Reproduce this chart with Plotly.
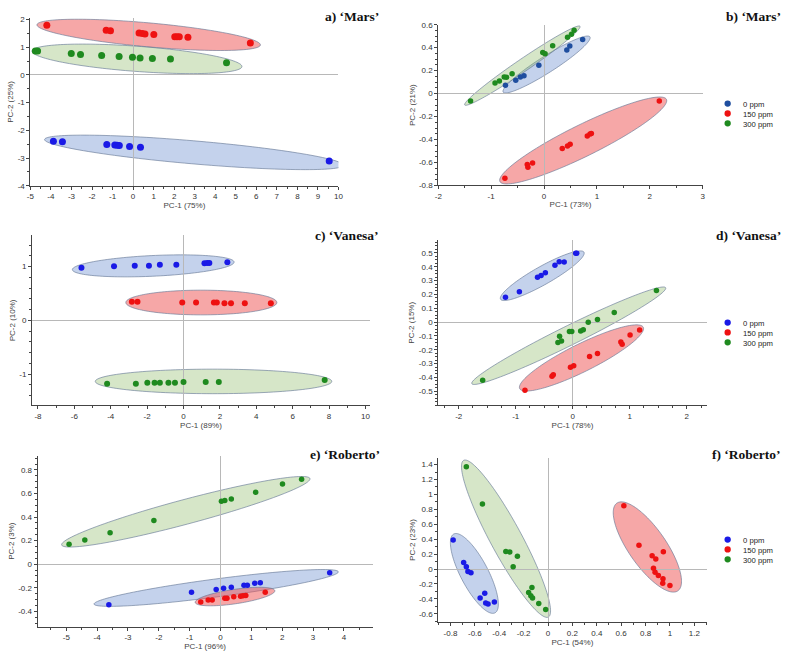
import numpy as np
import plotly.graph_objects as go

# ---------------- data ----------------
groups = ["0 ppm", "150 ppm", "300 ppm"]
titles = ["a) \u2018Mars\u2019", "b) \u2018Mars\u2019", "c) \u2018Vanesa\u2019",
          "d) \u2018Vanesa\u2019", "e) \u2018Roberto\u2019", "f) \u2018Roberto\u2019"]
x_titles = ["PC-1 (75%)", "PC-1 (73%)", "PC-1 (89%)", "PC-1 (78%)", "PC-1 (96%)", "PC-1 (54%)"]
y_titles = ["PC-2 (25%)", "PC-2 (21%)", "PC-2 (10%)", "PC-2 (15%)", "PC-2 (3%)", "PC-2 (23%)"]

# panel a
a_0_x = [-3.88, -3.44, -1.28, -0.89, -0.78, -0.67, -0.17, 0.36, 9.55]
a_0_y = [-2.39, -2.41, -2.51, -2.53, -2.54, -2.55, -2.58, -2.61, -3.11]
a_150_x = [-4.20, -1.31, -1.10, 0.29, 0.45, 0.58, 1.01, 2.03, 2.14, 2.25, 2.67, 5.71]
a_150_y = [1.79, 1.61, 1.59, 1.51, 1.49, 1.48, 1.46, 1.38, 1.38, 1.38, 1.36, 1.15]
a_300_x = [-4.76, -4.65, -3.01, -2.56, -1.53, -0.68, -0.03, 0.34, 0.94, 1.82, 4.55]
a_300_y = [0.86, 0.86, 0.77, 0.74, 0.70, 0.66, 0.64, 0.61, 0.59, 0.57, 0.44]

# panel b
b_0_x = [-0.73, -0.535, -0.448, -0.379, -0.098, 0.431, 0.487, 0.73]
b_0_y = [0.073, 0.116, 0.145, 0.156, 0.248, 0.38, 0.414, 0.471]
b_150_x = [-0.74, -0.317, -0.305, -0.217, 0.345, 0.444, 0.494, 0.818, 0.87, 0.895, 2.18]
b_150_y = [-0.737, -0.617, -0.642, -0.605, -0.477, -0.457, -0.442, -0.37, -0.352, -0.348, -0.064]
b_300_x = [-1.39, -0.927, -0.845, -0.753, -0.71, -0.604, -0.024, 0.02, 0.163, 0.444, 0.519, 0.569]
b_300_y = [-0.064, 0.093, 0.11, 0.145, 0.142, 0.173, 0.357, 0.348, 0.417, 0.491, 0.517, 0.551]

# panel c
c_0_x = [-5.61, -3.82, -2.68, -1.90, -1.30, -0.395, 1.15, 1.30, 1.42, 2.41]
c_0_y = [0.98, 1.006, 1.018, 1.018, 1.037, 1.037, 1.062, 1.067, 1.067, 1.08]
c_150_x = [-2.84, -2.53, -0.07, 0.69, 1.67, 1.83, 2.25, 2.61, 3.37, 4.80]
c_150_y = [0.346, 0.346, 0.333, 0.333, 0.333, 0.333, 0.321, 0.321, 0.321, 0.321]
c_300_x = [-4.20, -2.62, -1.99, -1.59, -1.30, -0.83, -0.47, 0.0, 1.22, 1.94, 7.76]
c_300_y = [-1.177, -1.177, -1.159, -1.159, -1.159, -1.159, -1.159, -1.147, -1.147, -1.147, -1.11]

# panel d
d_0_x = [-1.18, -0.936, -0.618, -0.555, -0.48, -0.312, -0.237, -0.15, 0.052, 0.07]
d_0_y = [0.179, 0.22, 0.324, 0.336, 0.357, 0.41, 0.436, 0.434, 0.498, 0.497]
d_150_x = [-0.838, -0.364, -0.341, -0.04, 0.017, 0.295, 0.434, 0.844, 0.867, 1.006, 1.173]
d_150_y = [-0.493, -0.391, -0.381, -0.327, -0.315, -0.248, -0.227, -0.144, -0.16, -0.094, -0.058]
d_300_x = [-1.58, -0.26, -0.231, -0.197, -0.058, -0.017, 0.139, 0.185, 0.272, 0.434, 0.728, 1.468]
d_300_y = [-0.42, -0.148, -0.103, -0.137, -0.068, -0.068, -0.065, -0.056, -0.001, 0.018, 0.07, 0.229]

# panel e
e_0_x = [-3.62, -0.94, -0.14, 0.10, 0.35, 0.76, 0.87, 1.11, 1.29, 3.54]
e_0_y = [-0.345, -0.238, -0.216, -0.205, -0.196, -0.18, -0.18, -0.163, -0.157, -0.073]
e_150_x = [-0.64, -0.40, -0.27, 0.14, 0.21, 0.43, 0.65, 0.73, 0.82, 1.45]
e_150_y = [-0.322, -0.305, -0.305, -0.289, -0.289, -0.277, -0.272, -0.269, -0.266, -0.238]
e_300_x = [-4.91, -4.40, -3.58, -2.16, 0.03, 0.14, 0.35, 1.14, 2.01, 2.63]
e_300_y = [0.169, 0.205, 0.267, 0.37, 0.535, 0.54, 0.554, 0.61, 0.68, 0.722]

# panel f
f_0_x = [-0.778, -0.692, -0.670, -0.657, -0.632, -0.557, -0.519, -0.511, -0.492, -0.44]
f_0_y = [0.391, 0.087, 0.030, -0.032, -0.049, -0.389, -0.323, -0.455, -0.468, -0.441]
f_150_x = [0.622, 0.746, 0.854, 0.884, 0.946, 0.865, 0.878, 0.905, 0.943, 0.941, 1.0]
f_150_y = [0.849, 0.320, 0.179, 0.136, 0.233, 0.012, -0.041, -0.085, -0.129, -0.190, -0.221]
f_300_x = [-0.670, -0.538, -0.346, -0.314, -0.251, -0.286, -0.132, -0.159, -0.141, -0.127, -0.076, -0.019]
f_300_y = [1.373, 0.871, 0.237, 0.228, 0.171, 0.030, -0.248, -0.314, -0.358, -0.389, -0.463, -0.542]

# confidence ellipses: major-axis tips (data units) and minor/major ratio
ell_a = {"0": [(-4.31, -2.33), (10.24, -3.26), 0.077], "150": [(-4.68, 1.81), (6.2, 1.08), 0.107], "300": [(-4.92, 0.86), (5.30, 0.30), 0.12]}
ell_b = {"0": [(-0.772, 0.013), (0.868, 0.494), 0.16], "150": [(-0.834, -0.766), (2.315, -0.05), 0.17], "300": [(-1.50, -0.099), (0.68, 0.586), 0.09]}
ell_c = {"0": [(-6.11, 0.944), (2.78, 1.086), 0.128], "150": [(-3.17, 0.333), (5.13, 0.333), 0.164], "300": [(-4.85, -1.135), (8.15, -1.135), 0.104]}
ell_d = {"0": [(-1.266, 0.165), (0.197, 0.505), 0.19], "150": [(-0.93, -0.481), (1.237, -0.037), 0.2], "300": [(-1.77, -0.445), (1.63, 0.248), 0.09]}
ell_e = {"0": [(-4.10, -0.339), (3.82, -0.065), 0.073], "150": [(-0.82, -0.325), (1.76, -0.225), 0.18], "300": [(-5.15, 0.163), (2.90, 0.727), 0.096]}
ell_f = {"0": [(-0.773, 0.470), (-0.435, -0.587), 0.31], "150": [(0.565, 0.884), (1.065, -0.292), 0.35], "300": [(-0.692, 1.457), (0.003, -0.643), 0.175]}

# tick values
a_xt = [-5, -4, -3, -2, -1, 0, 1, 2, 3, 4, 5, 6, 7, 8, 9, 10]
a_yt = [-4, -3, -2, -1, 0, 1, 2]
b_xt = [-2, -1, 0, 1, 2, 3]
b_yt = [-0.8, -0.6, -0.4, -0.2, 0, 0.2, 0.4, 0.6]
c_xt = [-8, -6, -4, -2, 0, 2, 4, 6, 8, 10]
c_yt = [-1, 0, 1]
d_xt = [-2, -1, 0, 1, 2]
d_yt = [-0.5, -0.4, -0.3, -0.2, -0.1, 0, 0.1, 0.2, 0.3, 0.4, 0.5]
e_xt = [-5, -4, -3, -2, -1, 0, 1, 2, 3, 4]
e_yt = [-0.4, -0.2, 0, 0.2, 0.4, 0.6, 0.8]
f_xt = [-0.8, -0.6, -0.4, -0.2, 0, 0.2, 0.4, 0.6, 0.8, 1, 1.2]
f_yt = [-0.6, -0.4, -0.2, 0, 0.2, 0.4, 0.6, 0.8, 1, 1.2, 1.4]

# ---------------- layout geometry ----------------
W, H = 790, 658
BLUE, NAVY, RED, GREEN = "#1a1ae6", "#1f4e9f", "#ee1111", "#1f8a1f"
FILL = {"0": "rgba(86,126,201,0.35)", "150": "rgba(238,80,80,0.5)", "300": "rgba(138,184,98,0.35)"}

panels = [
    dict(data=[(a_0_x, a_0_y), (a_150_x, a_150_y), (a_300_x, a_300_y)], ell=ell_a,
         xpx=(26.7, 338.3), ypx=(184.3, 14.3), xr=(-5, 10), yr=(-4, 2.05), xt=a_xt, yt=a_yt,
         xminor=0.5, yminor=0.5, msize=7, blue=BLUE, title_xy=(381, 13), legend=None),
    dict(data=[(b_0_x, b_0_y), (b_150_x, b_150_y), (b_300_x, b_300_y)], ell=ell_b,
         xpx=(439.3, 706.7), ypx=(184.0, 21.0), xr=(-2, 3), yr=(-0.8, 0.6), xt=b_xt, yt=b_yt,
         xminor=0.5, yminor=0.05, msize=5.5, blue=NAVY, title_xy=(788, 13), legend=(732, 101)),
    dict(data=[(c_0_x, c_0_y), (c_150_x, c_150_y), (c_300_x, c_300_y)], ell=ell_c,
         xpx=(28.3, 370.2), ypx=(406.9, 234.7), xr=(-8.33, 10.25), yr=(-1.58, 1.58), xt=c_xt, yt=c_yt,
         xminor=1, yminor=0.2, msize=6, blue=BLUE, title_xy=(381, 235), legend=None),
    dict(data=[(d_0_x, d_0_y), (d_150_x, d_150_y), (d_300_x, d_300_y)], ell=ell_d,
         xpx=(439.2, 710.8), ypx=(406.7, 239.7), xr=(-2.36, 2.35), yr=(-0.6, 0.59), xt=d_xt, yt=d_yt,
         xminor=0.25, yminor=0.025, msize=5.5, blue=BLUE, title_xy=(788, 235), legend=(732, 323)),
    dict(data=[(e_0_x, e_0_y), (e_150_x, e_150_y), (e_300_x, e_300_y)], ell=ell_e,
         xpx=(34.0, 372.8), ypx=(631.2, 458.1), xr=(-5.93, 4.93), yr=(-0.53, 0.92), xt=e_xt, yt=e_yt,
         xminor=0.5, yminor=0.05, msize=5.5, blue=BLUE, title_xy=(382, 457), legend=None),
    dict(data=[(f_0_x, f_0_y), (f_150_x, f_150_y), (f_300_x, f_300_y)], ell=ell_f,
         xpx=(439.3, 710.6), ypx=(626.6, 460.2), xr=(-0.9, 1.3), yr=(-0.71, 1.49), xt=f_xt, yt=f_yt,
         xminor=0.1, yminor=0.1, msize=5.5, blue=BLUE, title_xy=(788, 457), legend=(732, 543)),
]


def ellipse_path(p1, p2, w, sx, sy, n=140):
    u1, v1 = p1[0] * sx, p1[1] * sy
    u2, v2 = p2[0] * sx, p2[1] * sy
    cu, cv = (u1 + u2) / 2, (v1 + v2) / 2
    au, av = (u2 - u1) / 2, (v2 - v1) / 2
    bu, bv = -av * w, au * w
    t = np.linspace(0, 2 * np.pi, n)
    xs = (cu + au * np.cos(t) + bu * np.sin(t)) / sx
    ys = (cv + av * np.cos(t) + bv * np.sin(t)) / sy
    return "M " + " L ".join(f"{x:.5f},{y:.5f}" for x, y in zip(xs, ys)) + " Z"


def fmt(v):
    return f"{v:g}".replace("\u2212", "-")


fig = go.Figure()
shapes, annotations = [], []
layout = {}
TICKFONT = dict(size=8, color="#333", family="Liberation Sans, Arial")
TITLEFONT = dict(size=8, color="#444", family="Liberation Sans, Arial")

for i, p in enumerate(panels):
    k = "" if i == 0 else str(i + 1)
    xref, yref = "x" + k, "y" + k
    x0, x1 = p["xpx"]
    yb, yt_ = p["ypx"]
    sx = (x1 - x0) / (p["xr"][1] - p["xr"][0])
    sy = (yb - yt_) / (p["yr"][1] - p["yr"][0])
    common = dict(showline=True, linecolor="#444", linewidth=1, ticks="outside", ticklen=3,
                  tickcolor="#444", tickwidth=1, tickfont=TICKFONT, zeroline=True,
                  zerolinecolor="#b8b8b8", zerolinewidth=1, showgrid=False, fixedrange=True)
    layout["xaxis" + k] = dict(common, domain=[x0 / W, x1 / W], range=list(p["xr"]), anchor=yref,
                               tickmode="array", tickvals=p["xt"], ticktext=[fmt(v) for v in p["xt"]],
                               minor=dict(ticks="outside", ticklen=2, tick0=0, dtick=p["xminor"], tickcolor="#444", showgrid=False),
                               title=dict(text=x_titles[i], font=TITLEFONT, standoff=1))
    layout["yaxis" + k] = dict(common, domain=[1 - yb / H, 1 - yt_ / H], range=list(p["yr"]), anchor=xref,
                               tickmode="array", tickvals=p["yt"], ticktext=[fmt(v) for v in p["yt"]],
                               minor=dict(ticks="outside", ticklen=2, tick0=0, dtick=p["yminor"], tickcolor="#444", showgrid=False),
                               title=dict(text=y_titles[i], font=TITLEFONT, standoff=2))
    for key in ["0", "150", "300"]:
        e1, e2, w = p["ell"][key]
        shapes.append(dict(type="path", path=ellipse_path(e1, e2, w, sx, sy), xref=xref, yref=yref,
                           fillcolor=FILL[key], line=dict(color="rgba(100,120,150,0.8)", width=0.8), layer="below"))
    cols = [p["blue"], RED, GREEN]
    for (xs, ys), c, g in zip(p["data"], cols, groups):
        fig.add_trace(go.Scatter(x=xs, y=ys, mode="markers", name=g, xaxis=xref, yaxis=yref,
                                 marker=dict(color=c, size=p["msize"], line=dict(width=0)),
                                 showlegend=False, hoverinfo="skip"))
    tx, ty = p["title_xy"]
    annotations.append(dict(text="<b>" + titles[i] + "</b>", x=tx / W, y=1 - ty / H, xref="paper", yref="paper",
                            xanchor="right", yanchor="middle", showarrow=False,
                            font=dict(size=13.5, color="#111", family="Liberation Serif, Times New Roman")))
    if p["legend"]:
        lx, ly = p["legend"]
        r = 3.2
        for j, c in enumerate(cols):
            cy = ly + j * 10
            shapes.append(dict(type="circle", xref="paper", yref="paper",
                               x0=(lx - r) / W, x1=(lx + r) / W, y0=1 - (cy + r) / H, y1=1 - (cy - r) / H,
                               fillcolor=c, line=dict(width=0)))
        annotations.append(dict(text="<br>".join(groups), x=(lx + 13) / W, y=1 - (ly - 5.5) / H,
                                xref="paper", yref="paper", xanchor="left", yanchor="top", align="left",
                                showarrow=False, font=dict(size=7.7, color="#222", family="Liberation Sans, Arial")))

fig.update_layout(width=W, height=H, margin=dict(l=0, r=0, t=0, b=0), paper_bgcolor="white",
                  plot_bgcolor="rgba(0,0,0,0)", showlegend=False, shapes=shapes, annotations=annotations, **layout)
fig.write_html("out.html", config={"displayModeBar": False},
               post_script="document.body.style.margin='0';document.body.style.padding='0';")
